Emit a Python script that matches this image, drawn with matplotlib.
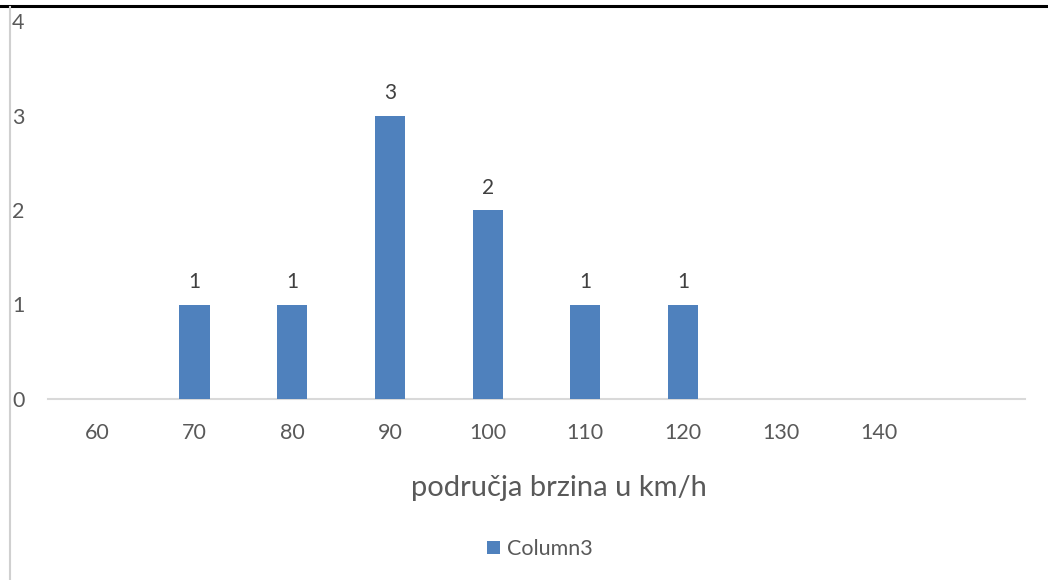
import numpy as np
import matplotlib.pyplot as plt
from matplotlib.lines import Line2D

# data
categories = ['60', '70', '80', '90', '100', '110', '120', '130', '140', '']
counts = [np.nan, 1, 1, 3, 2, 1, 1, np.nan, np.nan, np.nan]
series_name = 'Column3'
x_label = 'područja brzina u km/h'

BAR_COLOR = '#4f81bd'
TEXT_COLOR = '#595959'
GRID_COLOR = '#d9d9d9'

plt.rcParams['font.family'] = ['Lato', 'DejaVu Sans']

fig = plt.figure(figsize=(10.48, 5.8), dpi=100)
ax = fig.add_axes([48 / 1048, 1 - 399 / 580, (1025 - 48) / 1048, (399 - 21) / 580])

x = np.arange(len(categories))
bars = ax.bar(x, counts, width=0.31, color=BAR_COLOR, label=series_name, zorder=3)

# data labels only for existing values
for xi, v in zip(x, counts):
    if not np.isnan(v):
        ax.annotate(f'{int(v)}', (xi, v), xytext=(0, 9), textcoords='offset points',
                    ha='center', va='bottom', fontsize=15, color='#404040')

ax.set_xlim(-0.5, len(categories) - 0.5)
ax.set_ylim(0, 4)
ax.set_xticks(x)
ax.set_xticklabels(categories)
ax.set_yticks([0, 1, 2, 3, 4])
ax.tick_params(axis='x', length=0, pad=17, labelsize=15.5, labelcolor=TEXT_COLOR)
ax.tick_params(axis='y', length=0, pad=17, labelsize=15.5, labelcolor=TEXT_COLOR)
for lab in ax.get_yticklabels():
    lab.set_horizontalalignment('right')

for side in ['top', 'right', 'left']:
    ax.spines[side].set_visible(False)
ax.spines['bottom'].set_color(GRID_COLOR)
ax.spines['bottom'].set_linewidth(1.5)

ax.set_xlabel(x_label, fontsize=21, color=TEXT_COLOR)
ax.xaxis.set_label_coords(0.523, -0.2)

# legend below
fig.legend(handles=[bars], labels=[series_name], loc='center', bbox_to_anchor=(0.515, 1 - 549 / 580),
           frameon=False, fontsize=15.5, labelcolor=TEXT_COLOR, handlelength=0.6, handleheight=0.6,
           handletextpad=0.3)

# frame lines of the screenshot
fig.add_artist(Line2D([0, 1], [1 - 6 / 580, 1 - 6 / 580], color='black', lw=2.2, transform=fig.transFigure))
fig.add_artist(Line2D([9.5 / 1048, 9.5 / 1048], [0, 1 - 7 / 580], color='#d0d0d0', lw=1.5, transform=fig.transFigure))

fig.savefig('out.png', dpi=100)
